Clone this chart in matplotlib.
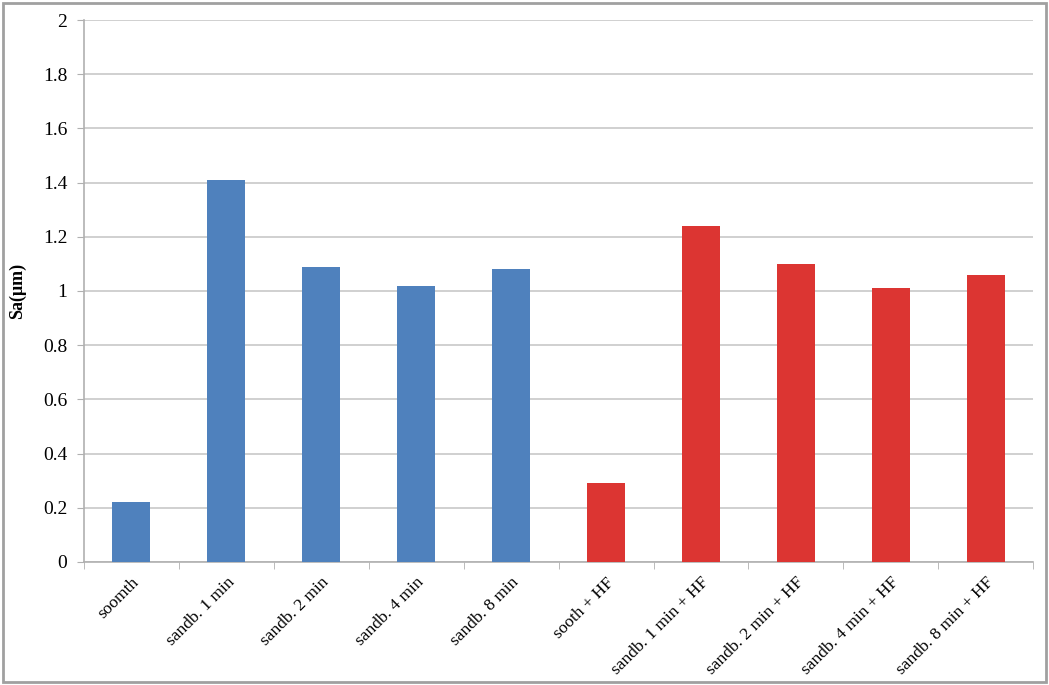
import matplotlib.pyplot as plt
import numpy as np

categories = ["soomth", "sandb. 1 min", "sandb. 2 min", "sandb. 4 min", "sandb. 8 min",
              "sooth + HF", "sandb. 1 min + HF", "sandb. 2 min + HF", "sandb. 4 min + HF",
              "sandb. 8 min + HF"]
sa_values = [0.22, 1.41, 1.09, 1.02, 1.08, 0.29, 1.24, 1.10, 1.01, 1.06]
bar_colors = ["#4F81BD"] * 5 + ["#DC3532"] * 5
y_ticks = [0, 0.2, 0.4, 0.6, 0.8, 1, 1.2, 1.4, 1.6, 1.8, 2]
y_tick_labels = ["0", "0.2", "0.4", "0.6", "0.8", "1", "1.2", "1.4", "1.6", "1.8", "2"]

plt.rcParams['font.family'] = ['Liberation Serif', 'DejaVu Serif']

fig = plt.figure(figsize=(10.49, 6.85), dpi=100)
ax = fig.add_axes([0.080, 0.1796, 0.905, 0.7912])

x = np.arange(len(categories))
ax.bar(x, sa_values, width=0.4, color=bar_colors, zorder=3)

ax.set_xlim(-0.5, len(categories) - 0.5)
ax.set_ylim(0, 2)
ax.set_yticks(y_ticks)
ax.set_yticklabels(y_tick_labels, fontsize=14)
ax.yaxis.grid(True, color="#C8C8C8", linewidth=1.2, zorder=0)

ax.set_xticks(x)
ax.set_xticklabels(categories, rotation=45, ha="right", rotation_mode="anchor", fontsize=12.5)
ax.set_xticks(np.arange(-0.5, len(categories)), minor=True)
ax.tick_params(axis="x", which="major", length=0, pad=9)
ax.tick_params(axis="x", which="minor", length=5, color="#B0B0B0")
ax.tick_params(axis="y", length=5, color="#B0B0B0", pad=7)

for s in ["top", "right"]:
    ax.spines[s].set_visible(False)
for s in ["left", "bottom"]:
    ax.spines[s].set_color("#B0B0B0")
    ax.spines[s].set_linewidth(1.2)

ax.set_ylabel("Sa(μm)", fontsize=13, fontweight="bold", labelpad=12)

fig.patches.append(plt.Rectangle((0.003, 0.005), 0.994, 0.99, transform=fig.transFigure,
                                 fill=False, edgecolor="#A0A0A0", linewidth=2))

fig.savefig("out.png", dpi=100)
